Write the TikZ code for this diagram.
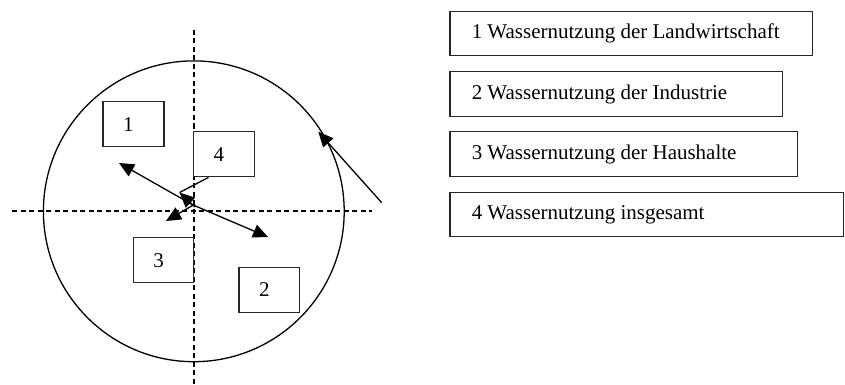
\documentclass[tikz,border=0pt]{standalone}
\usepackage{fontspec}
\setmainfont{Liberation Serif}
\usetikzlibrary{arrows.meta,calc}
\tikzset{
  numbox/.style={draw=black!85, line width=1.5pt, fill=white, rectangle,
    inner xsep=0pt, inner ysep=0pt, font=\fontsize{21}{25}\selectfont},
  dashline/.style={line width=1.2pt, dash pattern=on 5pt off 3.5pt},
  arr/.style={line width=1.3pt, -{Triangle[length=15pt,width=13.5pt]}},
  plain/.style={line width=1.3pt},
}
\begin{document}
\begin{tikzpicture}[x=1pt,y=-1pt]
\useasboundingbox (0,0) rectangle (845,385);
% circle and axes
\draw[plain] (193.8,211.3) circle (150.4pt);
\draw[dashline] (12,211) -- (372,211);
\draw[dashline] (194,30) -- (194,385);
% boxes in the circle
\node[numbox, minimum width=61pt, minimum height=45pt] (b1) at (133.5,124.2) {\makebox[61pt][l]{\hspace{20pt}1}};
\node[numbox, minimum width=60.6pt, minimum height=45pt] (b4) at (224,154.2) {\makebox[60.6pt][l]{\hspace{20pt}4}};
\node[numbox, minimum width=60pt, minimum height=45pt] (b3) at (163.3,260.2) {\makebox[60pt][l]{\hspace{20pt}3}};
\node[numbox, minimum width=60.3pt, minimum height=45.4pt] (b2) at (269.2,290) {\makebox[60.3pt][l]{\hspace{20pt}2}};
% arrows
\coordinate (c) at (193,205);
\coordinate (t1) at (119,163);
\coordinate (t2) at (268,237);
\coordinate (t3) at (166,221);
\coordinate (e4) at (179.5,192.5);
\coordinate (s4) at ($(b4.south west)!0.25!(b4.south east)$);
\draw[arr] (c) -- (t1);
\draw[arr] (c) -- (t2);
\draw[arr] (195,204) -- (t3);
\draw[plain] (s4) -- (e4);
\draw[arr] (195,207) -- (e4);
\coordinate (rs) at (381.7,202.7);
\coordinate (rt) at (318.3,131.7);
\draw[arr] (rs) -- (rt);
% legend
\node[numbox, minimum width=362.3pt, minimum height=44pt] (r1) at (631.2,33.7) {\makebox[362.3pt][l]{\hspace{21.7pt}1 Wassernutzung der Landwirtschaft}};
\node[numbox, minimum width=332.3pt, minimum height=45pt] (r2) at (616.2,94.2) {\makebox[332.3pt][l]{\hspace{21.7pt}2 Wassernutzung der Industrie}};
\node[numbox, minimum width=347.3pt, minimum height=45pt] (r3) at (623.7,154.2) {\makebox[347.3pt][l]{\hspace{21.7pt}3 Wassernutzung der Haushalte}};
\node[numbox, minimum width=393.3pt, minimum height=44.4pt] (r4) at (646.7,214.5) {\makebox[393.3pt][l]{\hspace{21.7pt}4 Wassernutzung insgesamt}};
\end{tikzpicture}
\end{document}
